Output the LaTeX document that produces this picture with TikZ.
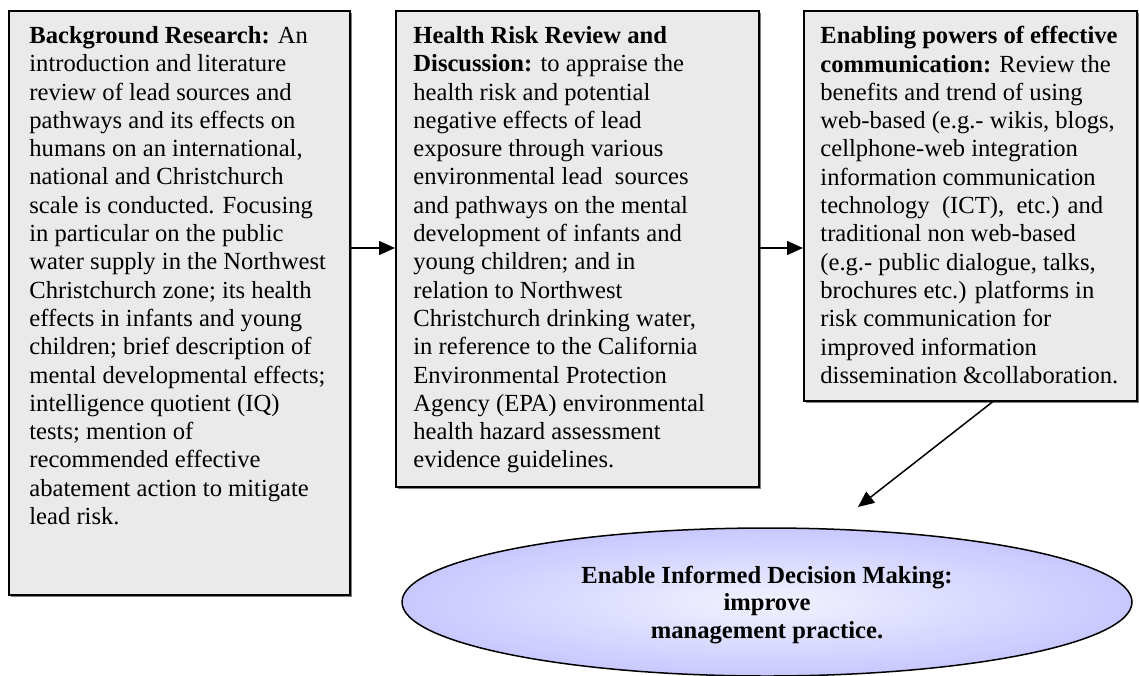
\documentclass[tikz,border=0pt]{standalone}
\usepackage{fontspec}
\setmainfont{Liberation Serif}
\usetikzlibrary{arrows.meta,shadows,shapes.geometric}
\definecolor{boxgray}{RGB}{234,234,234}
\definecolor{ellin}{RGB}{242,242,255}
\definecolor{ellout}{RGB}{200,200,255}
\begin{document}
\begin{tikzpicture}[x=0.5pt,y=-0.5pt,
  box/.style={draw=black,line width=0.75pt,fill=boxgray,inner sep=0pt,
    anchor=north west,
    drop shadow={shadow xshift=1pt,shadow yshift=-1pt,fill=black!50,opacity=1}},
  boxtext/.style={anchor=north west,inner sep=0pt,align=left,
    font=\fontsize{12.3pt}{14.15pt}\selectfont},
  arr/.style={line width=0.75pt,-{Triangle[length=8pt,width=7pt]}},
  ell/.style={ellipse,draw=black,line width=0.75pt,inner sep=0pt,
    inner color=ellin,outer color=ellout},
  elltext/.style={align=center,inner sep=0pt,
    font=\bfseries\fontsize{12.3pt}{13.8pt}\selectfont}
]
\useasboundingbox (0,0) rectangle (1139,675);

\node[box,minimum width=170.5pt,minimum height=292pt] (b1) at (8,10) {};
\node[box,minimum width=181.5pt,minimum height=238pt] (b2) at (395,10) {};
\node[box,minimum width=166.5pt,minimum height=195pt] (b3) at (803,10) {};

\node[boxtext] (t1) at (29,26) {\textbf{Background Research:} An\\
introduction and literature\\
review of lead sources and\\
pathways and its effects on\\
humans on an international,\\
national and Christchurch\\
scale is conducted. Focusing\\
in particular on the public\\
water supply in the Northwest\\
Christchurch zone; its health\\
effects in infants and young\\
children; brief description of\\
mental developmental effects;\\
intelligence quotient (IQ)\\
tests; mention of\\
recommended effective\\
abatement action to mitigate\\
lead risk.};

\node[boxtext] (t2) at (413,26) {\textbf{Health Risk Review and}\\
\textbf{Discussion:} to appraise the\\
health risk and potential\\
negative effects of lead\\
exposure through various\\
environmental lead\ \ sources\\
and pathways on the mental\\
development of infants and\\
young children; and in\\
relation to Northwest\\
Christchurch drinking water,\\
in reference to the California\\
Environmental Protection\\
Agency (EPA) environmental\\
health hazard assessment\\
evidence guidelines.};

\node[boxtext] (t3) at (820,26) {\textbf{Enabling powers of effective}\\
\textbf{communication:} Review the\\
benefits and trend of using\\
web-based (e.g.- wikis, blogs,\\
cellphone-web integration\\
information communication\\
technology\ \ (ICT),\ \ etc.) and\\
traditional non web-based\\
(e.g.- public dialogue, talks,\\
brochures etc.) platforms in\\
risk communication for\\
improved information\\
dissemination \&collaboration.};

\node[ell,minimum width=365pt,minimum height=74pt] (e) at (767,602) {};
\node[elltext] (et) at (767,605) {Enable Informed Decision Making:\\
improve\\
management practice.};

\coordinate (a1) at (0,248);
\coordinate (d1) at (993,0);
\coordinate (tip) at (858,507);
\draw[arr] (b1.east |- a1) -- (b2.west |- a1);
\draw[arr] (b2.east |- a1) -- (b3.west |- a1);
\draw[arr] (b3.south -| d1) -- (tip);
\end{tikzpicture}
\end{document}
